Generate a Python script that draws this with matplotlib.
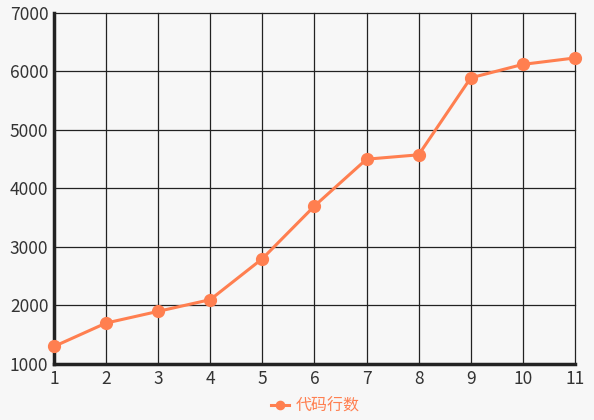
import matplotlib
matplotlib.use("Agg")
import matplotlib.pyplot as plt

plt.rcParams['font.family'] = ['Noto Sans CJK SC', 'DejaVu Sans']

# data
x_vals = [1, 2, 3, 4, 5, 6, 7, 8, 9, 10, 11]
lines_of_code = [1300, 1700, 1900, 2100, 2800, 3700, 4500, 4575, 5890, 6120, 6230]
series_name = "代码行数"

line_color = "#ff7f50"
bg = "#f7f7f7"

fig = plt.figure(figsize=(5.94, 4.2), dpi=100, facecolor=bg)
ax = fig.add_axes([0.0909, 0.1333, 0.877, 0.836], facecolor=bg)

ax.plot(x_vals, lines_of_code, color=line_color, lw=2.2, marker="o",
        markersize=8.5, label=series_name, clip_on=False, zorder=3)

ax.set_xlim(1, 11)
ax.set_ylim(1000, 7000)
ax.set_xticks(x_vals)
ax.set_yticks(range(1000, 7001, 1000))
ax.grid(True, color="#222222", lw=0.9)
ax.set_axisbelow(True)
for gl in ax.get_xgridlines() + ax.get_ygridlines():
    gl.set_clip_on(False)

for s in ("top", "right"):
    ax.spines[s].set_visible(False)
for s in ("left", "bottom"):
    ax.spines[s].set_color("#222222")
    ax.spines[s].set_linewidth(2.5)

ax.tick_params(length=0, labelsize=12.5, colors="#333333", pad=4)

leg = fig.legend(loc="center", bbox_to_anchor=(0.531, 0.033), frameon=False,
                 fontsize=11.5, handlelength=1.1, handletextpad=0.4,
                 markerscale=0.7)
for t in leg.get_texts():
    t.set_color(line_color)

fig.savefig("out.png", dpi=100, facecolor=bg)
